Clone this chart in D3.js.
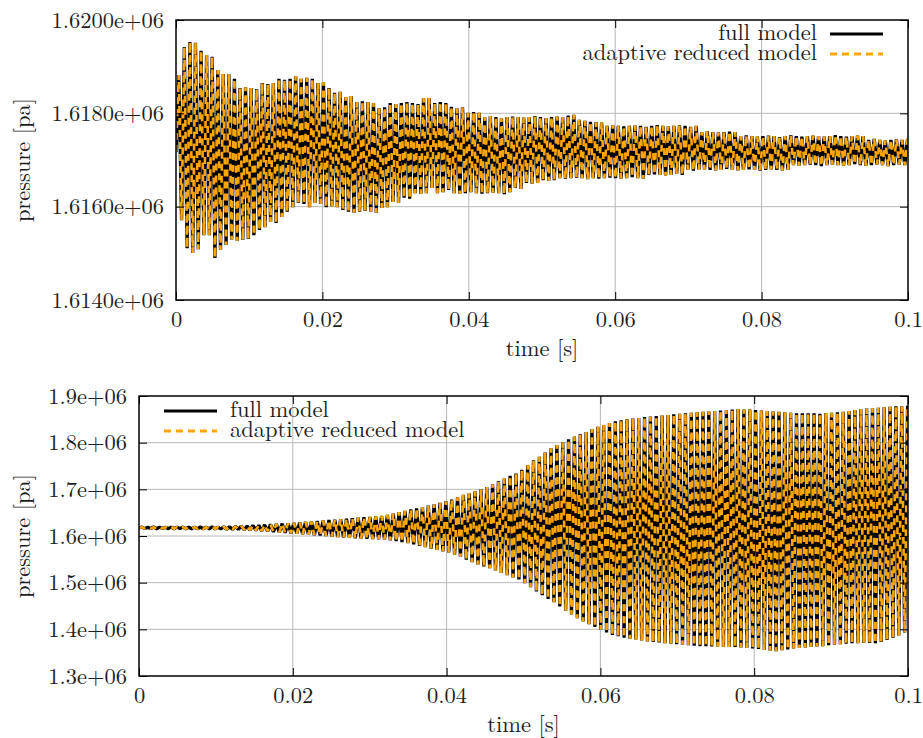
<!DOCTYPE html>
<html>
<head>
<meta charset="utf-8">
<script src="https://cdn.jsdelivr.net/npm/d3@7"></script>
<style>
  body { margin: 0; background: #fff; }
</style>
</head>
<body>
<svg id="chart" width="923" height="738"></svg>
<script>
// time between two successive extrema of the pressure trace [s]
const sampleDt = 0.00038;

// top panel: successive maxima / minima of the pressure [kPa]
const topStart = 1617.17;
const topMax = [
  1618.82, 1619.42, 1619.53, 1619.51, 1619.34, 1619.25, 1619.21, 1618.93, 1618.84, 1618.84,
  1618.74, 1618.54, 1618.56, 1618.54, 1618.52, 1618.65, 1618.63, 1618.65, 1618.74, 1618.72,
  1618.74, 1618.80, 1618.74, 1618.76, 1618.74, 1618.65, 1618.67, 1618.54, 1618.44, 1618.46,
  1618.35, 1618.37, 1618.24, 1618.26, 1618.24, 1618.22, 1618.11, 1618.13, 1618.22, 1618.20,
  1618.22, 1618.24, 1618.22, 1618.20, 1618.33, 1618.33, 1618.22, 1618.24, 1618.22, 1618.14,
  1618.11, 1618.13, 1618.01, 1618.03, 1618.01, 1617.92, 1617.94, 1617.92, 1617.90, 1617.92,
  1617.93, 1617.92, 1617.91, 1617.92, 1617.94, 1617.92, 1617.90, 1617.92, 1617.93, 1617.92,
  1617.95, 1617.97, 1617.86, 1617.84, 1617.82, 1617.81, 1617.80, 1617.73, 1617.75, 1617.73,
  1617.72, 1617.73, 1617.74, 1617.73, 1617.71, 1617.73, 1617.75, 1617.73, 1617.72, 1617.73,
  1617.74, 1617.73, 1617.71, 1617.73, 1617.60, 1617.62, 1617.60, 1617.59, 1617.60, 1617.61,
  1617.60, 1617.51, 1617.53, 1617.51, 1617.50, 1617.51, 1617.52, 1617.51, 1617.49, 1617.51,
  1617.53, 1617.51, 1617.50, 1617.51, 1617.52, 1617.51, 1617.50, 1617.51, 1617.53, 1617.51,
  1617.50, 1617.51, 1617.52, 1617.51, 1617.43, 1617.45, 1617.43, 1617.42, 1617.43, 1617.44,
  1617.43, 1617.45
];
const topMin = [
  1615.71, 1615.11, 1615.01, 1615.09, 1615.39, 1615.39, 1614.90, 1615.07, 1615.18, 1615.29,
  1615.27, 1615.29, 1615.31, 1615.39, 1615.50, 1615.56, 1615.67, 1615.65, 1615.78, 1615.89,
  1615.99, 1616.08, 1616.06, 1615.99, 1616.08, 1616.06, 1615.99, 1616.01, 1615.99, 1615.93,
  1615.89, 1615.87, 1615.89, 1615.91, 1615.89, 1615.87, 1615.97, 1615.99, 1616.10, 1616.08,
  1616.19, 1616.17, 1616.29, 1616.27, 1616.29, 1616.40, 1616.29, 1616.31, 1616.36, 1616.29,
  1616.27, 1616.29, 1616.31, 1616.29, 1616.28, 1616.29, 1616.30, 1616.29, 1616.27, 1616.31,
  1616.40, 1616.38, 1616.51, 1616.49, 1616.51, 1616.57, 1616.55, 1616.57, 1616.61, 1616.60,
  1616.61, 1616.62, 1616.61, 1616.59, 1616.61, 1616.60, 1616.61, 1616.62, 1616.61, 1616.60,
  1616.61, 1616.63, 1616.61, 1616.60, 1616.68, 1616.69, 1616.68, 1616.67, 1616.68, 1616.70,
  1616.68, 1616.79, 1616.77, 1616.79, 1616.80, 1616.79, 1616.78, 1616.79, 1616.81, 1616.79,
  1616.78, 1616.79, 1616.80, 1616.79, 1616.77, 1616.79, 1616.80, 1616.79, 1616.78, 1616.79,
  1616.89, 1616.88, 1616.89, 1616.90, 1616.89, 1616.87, 1616.89, 1616.90, 1616.89, 1616.88,
  1616.89, 1616.91, 1616.89, 1616.88, 1616.89, 1616.90, 1616.89, 1616.87, 1616.89, 1616.90,
  1616.89
];

// bottom panel: successive maxima / minima of the pressure [kPa]
const bottomStart = 1617.2;
const bottomMax = [
  1619.0, 1618.8, 1619.2, 1619.0, 1618.9, 1619.1, 1619.0, 1619.2, 1618.9, 1619.1,
  1619.3, 1619.0, 1619.4, 1619.2, 1619.5, 1619.6, 1620.5, 1621.0, 1621.5, 1622.5,
  1623.0, 1624, 1625, 1625.5, 1626.5, 1627, 1628, 1629, 1630, 1631,
  1632, 1633, 1634, 1635, 1636, 1637, 1638, 1639, 1640, 1641,
  1642, 1643, 1645, 1648, 1651, 1654, 1657, 1659, 1662, 1665,
  1668, 1671, 1674, 1678, 1683, 1688, 1692, 1696, 1700, 1705,
  1711, 1717, 1723, 1729, 1734, 1742, 1752, 1762, 1770, 1779,
  1788, 1795, 1801, 1807, 1813, 1818, 1823, 1829, 1834, 1838,
  1842, 1846, 1848, 1850, 1852, 1853, 1855, 1856, 1857, 1858,
  1859, 1861, 1862, 1863, 1864, 1865, 1866, 1867, 1868, 1869,
  1870, 1871, 1872, 1871, 1871, 1870, 1869, 1868, 1867, 1866,
  1865, 1864, 1863, 1863, 1863, 1863, 1862, 1863, 1864, 1865,
  1866, 1868, 1870, 1872, 1873, 1874, 1875, 1876, 1877, 1878,
  1878, 1879
];
const bottomMin = [
  1615.8, 1616.0, 1615.6, 1615.9, 1615.7, 1615.5, 1615.8, 1615.4, 1615.6, 1615.3,
  1615.5, 1615.2, 1615.4, 1615.0, 1614.8, 1614.6, 1614, 1613.5, 1613, 1612,
  1611, 1610, 1609, 1608, 1607, 1606, 1605, 1604, 1603, 1602,
  1601, 1600, 1599, 1598, 1597, 1596, 1595, 1594.5, 1594, 1593.5,
  1593, 1592.5, 1591, 1589, 1587, 1585, 1582, 1579, 1576, 1573,
  1570, 1567, 1565, 1560, 1555, 1549, 1544, 1539, 1535, 1531,
  1526, 1521, 1516, 1511, 1507, 1499, 1490, 1481, 1473, 1465,
  1458, 1449, 1440, 1432, 1424, 1417, 1411, 1405, 1399, 1393,
  1388, 1385, 1382, 1380, 1378, 1376, 1374, 1373, 1372, 1370,
  1369, 1368, 1367, 1366, 1365, 1364, 1364, 1363, 1363, 1362,
  1362, 1362, 1361, 1360, 1359, 1358, 1356, 1354, 1353, 1355,
  1357, 1359, 1360, 1361, 1362, 1363, 1364, 1366, 1367, 1368,
  1369, 1370, 1370, 1371, 1371, 1370, 1373, 1377, 1382, 1387,
  1393
];

const xTicks = [0, 0.02, 0.04, 0.06, 0.08, 0.1];
const xTickLabels = ['0', '0.02', '0.04', '0.06', '0.08', '0.1'];
const topYTicks = [1614000, 1616000, 1618000, 1620000];
const topYTickLabels = ['1.6140e+06', '1.6160e+06', '1.6180e+06', '1.6200e+06'];
const bottomYTicks = [1300000, 1400000, 1500000, 1600000, 1700000, 1800000, 1900000];
const bottomYTickLabels = ['1.3e+06', '1.4e+06', '1.5e+06', '1.6e+06', '1.7e+06', '1.8e+06', '1.9e+06'];
const seriesNames = ['full model', 'adaptive reduced model'];

const fontFamily = '"Latin Modern Roman", "Liberation Serif"';
const fontSize = 22.5;
const textColor = '#1e1e1e';

const svg = d3.select('#chart');

// turn the extrema lists into [time, pressure in Pa] points
function buildSeries(start, maxs, mins) {
  const pts = [[0, start * 1000]];
  maxs.forEach((m, k) => {
    pts.push([(2 * k + 1) * sampleDt, m * 1000]);
    if (k < mins.length) pts.push([(2 * k + 2) * sampleDt, mins[k] * 1000]);
  });
  return pts;
}

function drawPanel(cfg) {
  const x = d3.scaleLinear().domain([0, 0.1]).range([cfg.left, cfg.right]);
  const y = d3.scaleLinear().domain(cfg.yDomain).range([cfg.bottom, cfg.top]);
  const g = svg.append('g');

  // grid
  g.append('g').selectAll('line').data(xTicks.slice(1, -1)).enter().append('line')
    .attr('x1', d => x(d)).attr('x2', d => x(d))
    .attr('y1', cfg.top).attr('y2', cfg.bottom)
    .attr('stroke', '#b8b8b8').attr('stroke-width', 1);
  g.append('g').selectAll('line').data(cfg.yTicks.slice(1, -1)).enter().append('line')
    .attr('x1', cfg.left).attr('x2', cfg.right)
    .attr('y1', d => y(d)).attr('y2', d => y(d))
    .attr('stroke', '#b8b8b8').attr('stroke-width', 1);

  // data
  const clipId = 'clip' + cfg.id;
  svg.append('clipPath').attr('id', clipId).append('rect')
    .attr('x', cfg.left).attr('y', cfg.top)
    .attr('width', cfg.right - cfg.left).attr('height', cfg.bottom - cfg.top);

  const line = d3.line().x(d => x(d[0])).y(d => y(d[1]));
  const lines = g.append('g').attr('clip-path', `url(#${clipId})`);
  lines.append('path').datum(cfg.full)
    .attr('d', line).attr('fill', 'none')
    .attr('stroke', '#000').attr('stroke-width', 3.3).attr('stroke-linejoin', 'bevel');
  lines.append('path').datum(cfg.reduced)
    .attr('d', line).attr('fill', 'none')
    .attr('stroke', '#ffa500').attr('stroke-width', 2.6).attr('stroke-linejoin', 'bevel')
    .attr('stroke-dasharray', '7 5');

  // axes with inward ticks
  const yAxis = d3.axisLeft(y).tickValues(cfg.yTicks)
    .tickFormat((d, i) => cfg.yTickLabels[i]).tickSize(-8).tickPadding(12);
  const ga = g.append('g').attr('transform', `translate(${cfg.left},0)`).call(yAxis);
  const gr = g.append('g').attr('transform', `translate(${cfg.right},0)`)
    .call(d3.axisRight(y).tickValues(cfg.yTicks).tickFormat('').tickSize(-8));
  const xAxis = d3.axisBottom(x).tickValues(xTicks)
    .tickFormat((d, i) => xTickLabels[i]).tickSize(-8).tickPadding(11);
  const gb = g.append('g').attr('transform', `translate(0,${cfg.bottom})`).call(xAxis);
  const gt = g.append('g').attr('transform', `translate(0,${cfg.top})`)
    .call(d3.axisTop(x).tickValues(xTicks).tickFormat('').tickSize(-8));
  [ga, gr, gb, gt].forEach(a => {
    a.select('.domain').remove();
    a.selectAll('.tick line').attr('stroke', '#000');
  });

  g.append('rect')
    .attr('x', cfg.left).attr('y', cfg.top)
    .attr('width', cfg.right - cfg.left).attr('height', cfg.bottom - cfg.top)
    .attr('fill', 'none').attr('stroke', '#000').attr('stroke-width', 1.5);

  // axis titles
  g.append('text').attr('x', (cfg.left + cfg.right) / 2).attr('y', cfg.bottom + 56)
    .attr('text-anchor', 'middle').text('time [s]');
  g.append('text')
    .attr('transform', `translate(30,${(cfg.top + cfg.bottom) / 2}) rotate(-90)`)
    .attr('text-anchor', 'middle').text('pressure [pa]');

  // legend
  const lg = g.append('g');
  seriesNames.forEach((name, i) => {
    const ly = cfg.legend.y + i * 20;
    const seg = lg.append('line')
      .attr('x1', cfg.legend.lineX).attr('x2', cfg.legend.lineX + 53)
      .attr('y1', ly).attr('y2', ly).attr('stroke-width', 3);
    if (i === 0) seg.attr('stroke', '#000');
    else seg.attr('stroke', '#ffa500').attr('stroke-dasharray', '7 5');
    lg.append('text').attr('x', cfg.legend.textX).attr('y', ly + 6)
      .attr('text-anchor', cfg.legend.anchor).text(name);
  });
}

const topFull = buildSeries(topStart, topMax, topMin);
const bottomFull = buildSeries(bottomStart, bottomMax, bottomMin);
// the reduced model coincides with the full model at this resolution
const topReduced = topFull;
const bottomReduced = bottomFull;

drawPanel({
  id: 'top', left: 176, right: 908, top: 20, bottom: 300,
  yDomain: [1614000, 1620000], yTicks: topYTicks, yTickLabels: topYTickLabels,
  full: topFull, reduced: topReduced,
  legend: { y: 34, lineX: 830, textX: 817, anchor: 'end' }
});
drawPanel({
  id: 'bottom', left: 139, right: 908, top: 396, bottom: 676,
  yDomain: [1300000, 1900000], yTicks: bottomYTicks, yTickLabels: bottomYTickLabels,
  full: bottomFull, reduced: bottomReduced,
  legend: { y: 411, lineX: 164, textX: 230, anchor: 'start' }
});

svg.selectAll('text')
  .attr('font-family', null).attr('font-size', null).attr('fill', null)
  .style('font-family', fontFamily).style('font-size', fontSize + 'px').style('fill', textColor);
</script>
</body>
</html>
